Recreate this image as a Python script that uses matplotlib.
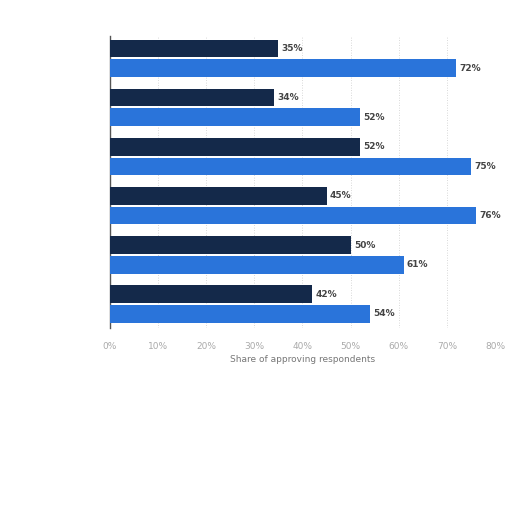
import matplotlib
matplotlib.use("Agg")
import matplotlib.pyplot as plt
import numpy as np

groups = ["1", "2", "3", "4", "5", "6"]
series_dark = [35, 34, 52, 45, 50, 42]
series_blue = [72, 52, 75, 76, 61, 54]
xticks = [0, 10, 20, 30, 40, 50, 60, 70, 80]
xlabel = "Share of approving respondents"

fig = plt.figure(figsize=(5.12, 5.12), dpi=100)
ax = fig.add_axes([0.2148, 0.359, 0.752, 0.571])

y = np.arange(len(groups))
h = 0.36
ax.barh(y - 0.2, series_dark, height=h, color="#14294a", zorder=3)
ax.barh(y + 0.2, series_blue, height=h, color="#2a74da", zorder=3)

for yi, v in zip(y - 0.2, series_dark):
    ax.text(v + 0.7, yi, f"{v}%", va="center", ha="left", fontsize=6.5,
            color="#444444", fontweight="bold")
for yi, v in zip(y + 0.2, series_blue):
    ax.text(v + 0.7, yi, f"{v}%", va="center", ha="left", fontsize=6.5,
            color="#444444", fontweight="bold")

ax.set_xlim(0, 80)
ax.set_ylim(5.49, -0.455)
ax.set_xticks(xticks)
ax.set_xticklabels([f"{t}%" for t in xticks], fontsize=6.5, color="#aaaaaa")
ax.set_yticks([])
ax.tick_params(axis="x", length=0, pad=10)
ax.grid(axis="x", linestyle=(0, (1, 2)), color="#cccccc", linewidth=0.6, zorder=0)
for s in ["top", "right", "bottom"]:
    ax.spines[s].set_visible(False)
ax.spines["left"].set_color("#555555")
ax.spines["left"].set_linewidth(1.0)
ax.set_xlabel(xlabel, fontsize=6.5, color="#777777", labelpad=3)

fig.savefig("out.png", dpi=100)
